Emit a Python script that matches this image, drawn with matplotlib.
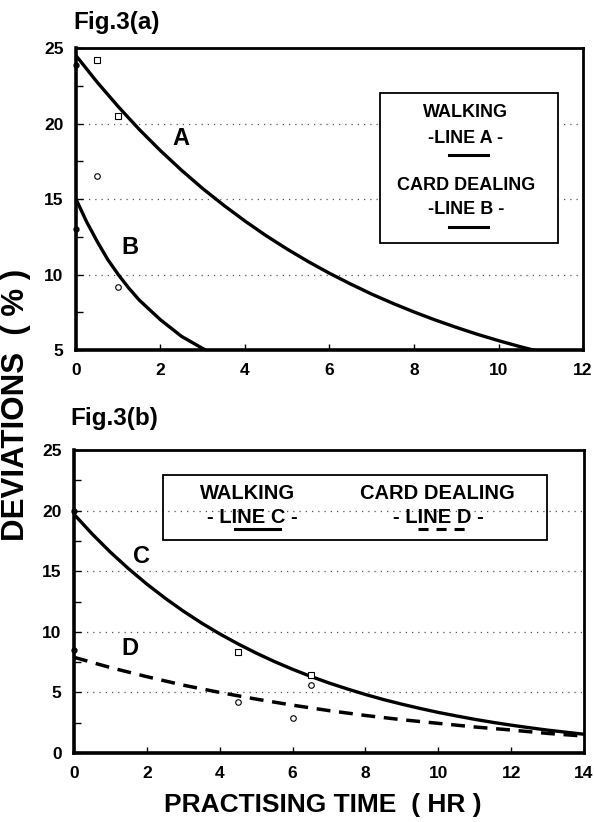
import matplotlib.pyplot as plt
from matplotlib.patches import Rectangle
from matplotlib.lines import Line2D

plt.rcParams['font.family'] = ['Liberation Sans', 'DejaVu Sans']
plt.rcParams['font.weight'] = 'bold'

# Fig.3(a): fitted curves
a_time = [0, 0.5, 1, 1.5, 2, 2.5, 3, 3.5, 4, 4.5, 5, 5.5, 6, 6.5, 7, 7.5, 8, 8.5,
          9, 9.5, 10, 10.5, 11]
a_dev = [24.5, 22.74, 21.12, 19.6, 18.2, 16.9, 15.69, 14.58, 13.54, 12.57, 11.68,
         10.85, 10.08, 9.37, 8.7, 8.09, 7.52, 6.99, 6.5, 6.04, 5.62, 5.23, 4.87]
b_time = [0, 0.25, 0.5, 0.75, 1.0, 1.25, 1.5, 2.0, 2.5, 3.0, 3.1]
b_dev = [15.0, 13.5, 12.2, 11.0, 10.0, 9.1, 8.3, 7.0, 5.9, 5.1, 4.95]

# Fig.3(a): measured points
walk_a_t = [0.5, 1.0]
walk_a_d = [24.2, 20.5]
card_a_t = [0.5, 1.0]
card_a_d = [16.5, 9.2]
axis_a_t = [0, 0]
axis_a_d = [23.9, 13.0]

# Fig.3(b): fitted curves
c_time = [0, 0.5, 1, 1.5, 2, 2.5, 3, 3.5, 4, 4.5, 5, 5.5, 6, 6.5, 7, 7.5, 8, 8.5,
          9, 9.5, 10, 10.5, 11, 11.5, 12, 12.5, 13, 13.5, 14]
c_dev = [19.7, 18.07, 16.57, 15.2, 13.94, 12.78, 11.71, 10.73, 9.83, 9.01, 8.25,
         7.55, 6.91, 6.32, 5.78, 5.29, 4.83, 4.41, 4.03, 3.68, 3.35, 3.06, 2.78,
         2.53, 2.3, 2.09, 1.89, 1.72, 1.55]
d_time = [0, 1, 2, 3, 4, 5, 6, 7, 8, 9, 10, 11, 12, 13, 14]
d_dev = [7.9, 7.05, 6.3, 5.6, 5.0, 4.45, 3.95, 3.5, 3.1, 2.75, 2.45, 2.15, 1.9, 1.62, 1.4]

# Fig.3(b): measured points
walk_b_t = [4.5, 6.5]
walk_b_d = [8.3, 6.4]
card_b_t = [4.5, 6.5, 6.0]
card_b_d = [4.2, 5.6, 2.9]
axis_b_t = [0, 0]
axis_b_d = [20.0, 8.5]

fig = plt.figure(figsize=(5.94, 8.22), dpi=100)
ax1 = fig.add_axes([0.1279, 0.5742, 0.8536, 0.3674])
ax2 = fig.add_axes([0.1246, 0.0839, 0.8586, 0.3686])


def style_axes(ax, xmax, ymin, ygrid):
    for side in ['left', 'bottom']:
        ax.spines[side].set_linewidth(2.6)
    for side in ['top', 'right']:
        ax.spines[side].set_linewidth(2.0)
    ax.set_xlim(0, xmax)
    ax.set_ylim(ymin, 25)
    ax.set_xticks(range(0, xmax + 1, 2))
    ax.set_yticks(range(ymin, 26, 5))
    ax.set_yticks([v + 2.5 for v in range(ymin, 25, 5)], minor=True)
    ax.tick_params(axis='x', direction='in', length=4, width=1, pad=9, top=False)
    ax.tick_params(axis='y', which='both', direction='in', length=5, width=1, pad=9, right=False)
    for lab in ax.get_xticklabels() + ax.get_yticklabels():
        lab.set_fontsize(12.5)
        lab.set_fontweight('bold')
    for g in ygrid:
        ax.axhline(g, color='#555555', lw=0.9, ls=(0, (1, 4)), zorder=0)


style_axes(ax1, 12, 5, [10, 15, 20])
style_axes(ax2, 14, 0, [5, 10, 15, 20])

# top panel
ax1.plot(a_time, a_dev, color='black', lw=2.4, solid_capstyle='butt')
ax1.plot(b_time, b_dev, color='black', lw=2.4, solid_capstyle='butt')
ax1.plot(walk_a_t, walk_a_d, 's', ms=4, mfc='white', mec='black', mew=0.8)
ax1.plot(card_a_t, card_a_d, 'o', ms=4, mfc='white', mec='black', mew=0.8)
ax1.plot(axis_a_t, axis_a_d, 'o', ms=3.5, color='black', clip_on=False)
ax1.text(2.49, 19.0, 'A', fontsize=17, fontweight='bold', ha='center', va='center')
ax1.text(1.27, 11.8, 'B', fontsize=17, fontweight='bold', ha='center', va='center')

ax1.add_patch(Rectangle((0.599, 0.354), 0.351, 0.497, transform=ax1.transAxes,
                        fill=True, facecolor='white', edgecolor='black', lw=1.3, zorder=3))
leg_kw = dict(transform=ax1.transAxes, ha='center', va='center', fontsize=13,
              fontweight='bold', zorder=4)
ax1.text(0.769, 0.788, 'WALKING', **leg_kw)
ax1.text(0.769, 0.702, '-LINE A -', **leg_kw)
ax1.text(0.769, 0.546, 'CARD DEALING', **leg_kw)
ax1.text(0.769, 0.464, '-LINE B -', **leg_kw)
ax1.add_line(Line2D([0.736, 0.813], [0.646, 0.646], transform=ax1.transAxes,
                    color='black', lw=2.2, zorder=4))
ax1.add_line(Line2D([0.736, 0.813], [0.407, 0.407], transform=ax1.transAxes,
                    color='black', lw=2.2, zorder=4))

# bottom panel
ax2.plot(c_time, c_dev, color='black', lw=2.4, solid_capstyle='butt')
ax2.plot(d_time, d_dev, color='black', lw=2.5, ls=(0, (4, 2.5)))
ax2.plot(walk_b_t, walk_b_d, 's', ms=4, mfc='white', mec='black', mew=0.8)
ax2.plot(card_b_t, card_b_d, 'o', ms=4, mfc='white', mec='black', mew=0.8)
ax2.plot(axis_b_t, axis_b_d, 'o', ms=3.5, color='black', clip_on=False)
ax2.text(1.85, 16.2, 'C', fontsize=17, fontweight='bold', ha='center', va='center')
ax2.text(1.54, 8.6, 'D', fontsize=17, fontweight='bold', ha='center', va='center')

ax2.add_patch(Rectangle((0.1745, 0.703), 0.7525, 0.214, transform=ax2.transAxes,
                        fill=False, edgecolor='black', lw=1.3, zorder=3))
leg_kw2 = dict(transform=ax2.transAxes, ha='center', va='center', fontsize=14.5,
               fontweight='bold', zorder=4)
ax2.text(0.341, 0.858, 'WALKING', **leg_kw2)
ax2.text(0.349, 0.779, '- LINE C -', **leg_kw2)
ax2.text(0.712, 0.858, 'CARD DEALING', **leg_kw2)
ax2.text(0.714, 0.779, '- LINE D -', **leg_kw2)
ax2.add_line(Line2D([0.316, 0.404], [0.740, 0.740], transform=ax2.transAxes,
                    color='black', lw=2.2, zorder=4))
ax2.add_line(Line2D([0.675, 0.767], [0.740, 0.740], transform=ax2.transAxes,
                    color='black', lw=2.2, ls=(0, (3.3, 2.6)), zorder=4))

# panel titles and shared axis labels
fig.text(73 / 594, 1 - 22 / 822, 'Fig.3(a)', fontsize=17.5, fontweight='bold', va='center')
fig.text(70 / 594, 1 - 418 / 822, 'Fig.3(b)', fontsize=17.5, fontweight='bold', va='center')
fig.text(16 / 594, 1 - 405 / 822, 'DEVIATIONS  ( % )', fontsize=22.5, fontweight='bold',
         rotation=90, ha='center', va='center')
fig.text(323 / 594, 1 - 805 / 822, 'PRACTISING TIME  ( HR )', fontsize=19, fontweight='bold',
         ha='center', va='center')

fig.savefig('out.png', dpi=100)
